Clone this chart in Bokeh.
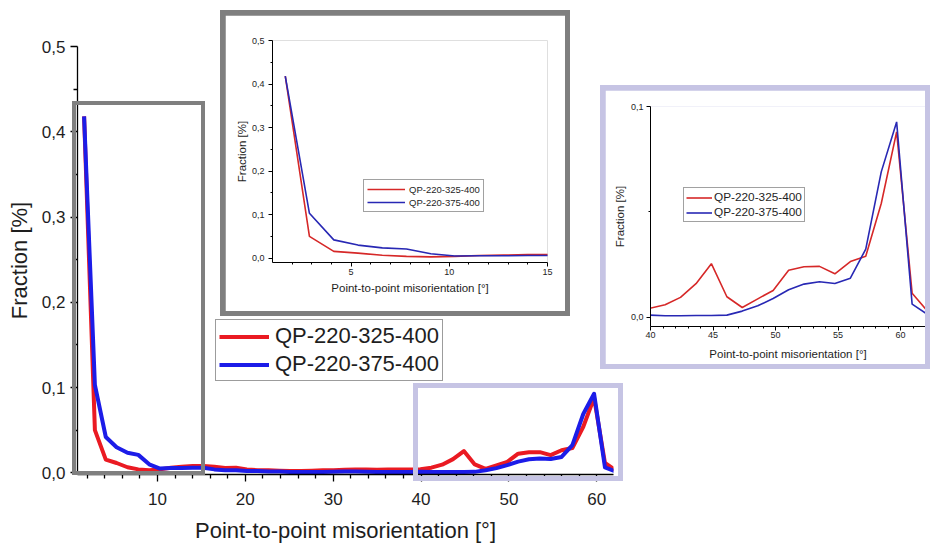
from bokeh.plotting import figure
from bokeh.models import (FixedTicker, CustomJSTickFormatter, Legend, LegendItem,
                          Range1d, GridBox, Div)
from bokeh.embed import file_html
from bokeh.resources import INLINE

# ---------------- data ----------------
misorientation = [1.65, 2.88, 4.12, 5.35, 6.59, 7.82, 9.06, 10.29, 11.53, 12.76,
                  14.00, 15.23, 16.47, 17.70, 18.94, 20.17, 21.41, 22.64, 23.88, 25.11,
                  26.35, 27.58, 28.82, 30.05, 31.29, 32.52, 33.76, 34.99, 36.23, 37.46,
                  38.70, 39.93, 41.17, 42.40, 43.64, 44.87, 46.11, 47.34, 48.58, 49.81,
                  51.05, 52.28, 53.52, 54.75, 55.99, 57.22, 58.46, 59.69, 60.93, 62.16]
qp_325 = [0.418, 0.050, 0.0155, 0.0115, 0.0065, 0.0040, 0.0030, 0.0040, 0.0060, 0.0070,
          0.0080, 0.0080, 0.0070, 0.0055, 0.0060, 0.0040, 0.0030, 0.0030, 0.0025, 0.0020,
          0.0020, 0.0025, 0.0030, 0.0030, 0.0035, 0.0040, 0.0040, 0.0035, 0.0040, 0.0040,
          0.0040, 0.0043, 0.0060, 0.0095, 0.0160, 0.0255, 0.0098, 0.0047, 0.0088, 0.0128,
          0.0224, 0.0240, 0.0242, 0.0207, 0.0265, 0.0290, 0.0540, 0.0880, 0.0115, 0.0030]
qp_375 = [0.418, 0.103, 0.042, 0.030, 0.0235, 0.021, 0.010, 0.005, 0.0055, 0.0055,
          0.0060, 0.0060, 0.0040, 0.0030, 0.0030, 0.0020, 0.0020, 0.0015, 0.0015, 0.0010,
          0.0008, 0.0010, 0.0010, 0.0012, 0.0015, 0.0015, 0.0012, 0.0010, 0.0010, 0.0010,
          0.0010, 0.0011, 0.0008, 0.0008, 0.0009, 0.0009, 0.0011, 0.0030, 0.0055, 0.0090,
          0.0131, 0.0158, 0.0169, 0.0161, 0.0186, 0.0324, 0.0690, 0.0927, 0.0063, 0.0014]
series_names = ["QP-220-325-400", "QP-220-375-400"]

main_x_ticks = [10, 20, 30, 40, 50, 60]
main_x_minor = [2, 4, 6, 8, 12, 14, 16, 18, 22, 24, 26, 28, 32, 34, 36, 38,
                42, 44, 46, 48, 52, 54, 56, 58, 62]
main_y_ticks = [0.0, 0.1, 0.2, 0.3, 0.4, 0.5]
main_y_minor = [0.05, 0.15, 0.25, 0.35, 0.45]
inset1_x_ticks = [5, 10, 15]
inset1_x_minor = [2, 3, 4, 6, 7, 8, 9, 11, 12, 13, 14]
inset2_x_ticks = [40, 45, 50, 55, 60]
inset2_x_minor = [41, 42, 43, 44, 46, 47, 48, 49, 51, 52, 53, 54, 56, 57, 58, 59, 61, 62]
inset2_y_ticks = [0.0, 0.1]
inset2_y_minor = [0.05]

x_title = "Point-to-point misorientation [°]"
y_title = "Fraction [%]"

FONT = "Liberation Sans"
TXT = "#1e1e1e"
RED_MAIN, BLUE_MAIN = "#ea1a22", "#1c1ce8"
RED_IN, BLUE_IN = "#d62828", "#2828b4"
GRAY = "#7f7f7f"
LAV = "#c6c4e4"

comma_fmt = "return tick.toFixed(1).replace('.', ',');"


def style(p, tick_px, title_px, tick_out, minor_out, xl_st, xt_st, yl_st, yt_st, lw):
    p.outline_line_color = None
    p.grid.visible = False
    p.background_fill_color = "white"
    p.border_fill_color = "white"
    for ax in (p.xaxis[0], p.yaxis[0]):
        ax.axis_line_color = "black"
        ax.axis_line_width = lw
        ax.major_tick_line_color = "black"
        ax.minor_tick_line_color = "black"
        ax.major_tick_line_width = lw
        ax.minor_tick_line_width = lw
        ax.major_tick_in = 0
        ax.minor_tick_in = 0
        ax.major_tick_out = tick_out
        ax.minor_tick_out = minor_out
        ax.major_label_text_font = FONT
        ax.major_label_text_font_size = tick_px
        ax.major_label_text_color = TXT
        ax.axis_label_text_font = FONT
        ax.axis_label_text_font_size = title_px
        ax.axis_label_text_font_style = "normal"
        ax.axis_label_text_color = TXT
    p.xaxis[0].major_label_standoff = xl_st
    p.xaxis[0].axis_label_standoff = xt_st
    p.yaxis[0].major_label_standoff = yl_st
    p.yaxis[0].axis_label_standoff = yt_st
    p.yaxis[0].formatter = CustomJSTickFormatter(code=comma_fmt)


def add_legend(p, renderers, loc, font_px, glyph_w, standoff, pad, item_h, spacing, border):
    items = [LegendItem(label=n, renderers=[r]) for n, r in zip(series_names, renderers)]
    lg = Legend(items=items, location=loc, margin=0, padding=pad, spacing=spacing,
                glyph_width=glyph_w, glyph_height=item_h, label_height=item_h,
                label_standoff=standoff, label_text_font=FONT,
                label_text_font_size=font_px, label_text_color=TXT,
                border_line_color=border, border_line_width=1,
                background_fill_color="white", background_fill_alpha=1.0)
    p.add_layout(lg)


# ---------------- main chart ----------------
W, H = 933, 545
p = figure(width=W, height=H, x_range=Range1d(0.9, 61.9), y_range=Range1d(-0.002, 0.5),
           output_backend="svg", toolbar_location=None,
           min_border_left=77, min_border_right=320, min_border_top=46, min_border_bottom=71,
           x_axis_label=x_title, y_axis_label=y_title)
style(p, "17px", "22px", 7, 4, 11, 10, 5, 7, 1.3)
p.xaxis[0].ticker = FixedTicker(ticks=main_x_ticks, minor_ticks=main_x_minor)
p.yaxis[0].ticker = FixedTicker(ticks=main_y_ticks, minor_ticks=main_y_minor)
m1 = p.line(misorientation, qp_325, line_width=4, line_color=RED_MAIN, line_join="round")
m2 = p.line(misorientation, qp_375, line_width=4, line_color=BLUE_MAIN, line_join="round")
add_legend(p, [m1, m2], (138, 93), "22px", 50, 6, 3, 25, 2, "#3a3a3a")

# ---------------- inset 1 (low angles) ----------------
q1 = figure(width=340, height=296, x_range=Range1d(1, 15), y_range=Range1d(-0.01, 0.5),
            output_backend="svg", toolbar_location=None,
            min_border_left=47, min_border_right=18, min_border_top=25, min_border_bottom=49,
            x_axis_label=x_title, y_axis_label=y_title)
style(q1, "9px", "11.5px", 4, 2, 2, 4, 4, 1, 1)
q1.xaxis[0].ticker = FixedTicker(ticks=inset1_x_ticks, minor_ticks=inset1_x_minor)
q1.yaxis[0].ticker = FixedTicker(ticks=main_y_ticks, minor_ticks=main_y_minor)
a1 = q1.line(misorientation, qp_325, line_width=1.6, line_color=RED_IN)
a2 = q1.line(misorientation, qp_375, line_width=1.6, line_color=BLUE_IN)
add_legend(q1, [a1, a2], (91, 50), "9.5px", 38, 4, 3, 12, 1, "#444444")

# ---------------- inset 2 (high angles) ----------------
q2 = figure(width=320, height=274, x_range=Range1d(40, 62), y_range=Range1d(-0.0043, 0.1),
            output_backend="svg", toolbar_location=None,
            min_border_left=45, min_border_right=0, min_border_top=16, min_border_bottom=38,
            x_axis_label=x_title, y_axis_label=y_title)
style(q2, "9px", "11.5px", 4, 2, 1, 7, 3, 2, 1)
q2.xaxis[0].ticker = FixedTicker(ticks=inset2_x_ticks, minor_ticks=inset2_x_minor)
q2.yaxis[0].ticker = FixedTicker(ticks=inset2_y_ticks, minor_ticks=inset2_y_minor)
b1 = q2.line(misorientation, qp_325, line_width=1.6, line_color=RED_IN)
b2 = q2.line(misorientation, qp_375, line_width=1.6, line_color=BLUE_IN)
add_legend(q2, [b1, b2], (33, 104), "11.8px", 26, 2, 2, 13, 1, "#444444")


# ---------------- page composition (pixel rectangles) ----------------
def border_div(w, h, color, bw):
    return Div(text="", width=w, height=h, margin=0,
               styles={"box-sizing": "border-box", "border": f"{bw}px solid {color}",
                       "background-color": "transparent"})


def solid_div(w, h, color):
    return Div(text="", width=w, height=h, margin=0, styles={"background-color": color})


# (item, x0, y0, x1, y1) in page pixels, drawn in this order
placed = [
    (p, 0, 0, W, H),
    (border_div(133, 374, GRAY, 4), 72, 101, 205, 475),     # zoom box, low angles
    (border_div(210, 98, LAV, 5), 413, 383, 623, 481),       # zoom box, high angles
    (solid_div(350, 306, GRAY), 220, 10, 570, 316),          # inset 1 frame
    (q1, 225, 15, 565, 311),
    (solid_div(330, 284, LAV), 600, 85, 930, 369),           # inset 2 frame
    (q2, 605, 90, 925, 364),
]
xs = sorted({v for it in placed for v in (it[1], it[3])})
ys = sorted({v for it in placed for v in (it[2], it[4])})
cols = [f"{b - a}px" for a, b in zip(xs[:-1], xs[1:])]
rows = [f"{b - a}px" for a, b in zip(ys[:-1], ys[1:])]
children = []
for item, x0, y0, x1, y1 in placed:
    c0, c1 = xs.index(x0), xs.index(x1)
    r0, r1 = ys.index(y0), ys.index(y1)
    children.append((item, r0, c0, r1 - r0, c1 - c0))

grid = GridBox(children=children, rows=rows, cols=cols, spacing=0)

open("out.html", "w").write(file_html(grid, INLINE))
